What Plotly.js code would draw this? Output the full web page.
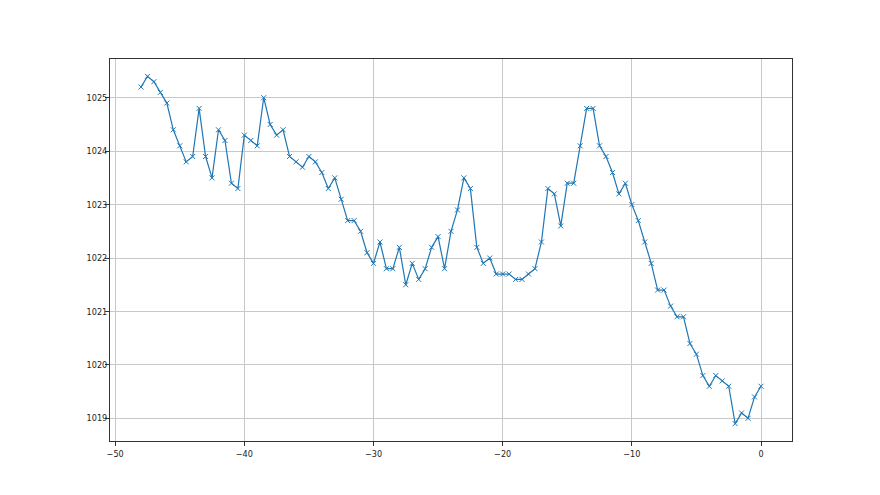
<!DOCTYPE html>
<html>
<head>
<meta charset="utf-8">
<script src="https://cdn.plot.ly/plotly-3.0.1.min.js"></script>
<style>html,body{margin:0;padding:0;background:#fff;}#chart{width:880px;height:495px;}</style>
</head>
<body>
<div id="chart"></div>
<script>
const hours = [-48,-47.5,-47,-46.5,-46,-45.5,-45,-44.5,-44,-43.5,-43,-42.5,-42,-41.5,-41,-40.5,-40,-39.5,-39,-38.5,-38,-37.5,-37,-36.5,-36,-35.5,-35,-34.5,-34,-33.5,-33,-32.5,-32,-31.5,-31,-30.5,-30,-29.5,-29,-28.5,-28,-27.5,-27,-26.5,-26,-25.5,-25,-24.5,-24,-23.5,-23,-22.5,-22,-21.5,-21,-20.5,-20,-19.5,-19,-18.5,-18,-17.5,-17,-16.5,-16,-15.5,-15,-14.5,-14,-13.5,-13,-12.5,-12,-11.5,-11,-10.5,-10,-9.5,-9,-8.5,-8,-7.5,-7,-6.5,-6,-5.5,-5,-4.5,-4,-3.5,-3,-2.5,-2,-1.5,-1,-0.5,0];
const pressure = [1025.2,1025.4,1025.3,1025.1,1024.9,1024.4,1024.1,1023.8,1023.9,1024.8,1023.9,1023.5,1024.4,1024.2,1023.4,1023.3,1024.3,1024.2,1024.1,1025.0,1024.5,1024.3,1024.4,1023.9,1023.8,1023.7,1023.9,1023.8,1023.6,1023.3,1023.5,1023.1,1022.7,1022.7,1022.5,1022.1,1021.9,1022.3,1021.8,1021.8,1022.2,1021.5,1021.9,1021.6,1021.8,1022.2,1022.4,1021.8,1022.5,1022.9,1023.5,1023.3,1022.2,1021.9,1022.0,1021.7,1021.7,1021.7,1021.6,1021.6,1021.7,1021.8,1022.3,1023.3,1023.2,1022.6,1023.4,1023.4,1024.1,1024.8,1024.8,1024.1,1023.9,1023.6,1023.2,1023.4,1023.0,1022.7,1022.3,1021.9,1021.4,1021.4,1021.1,1020.9,1020.9,1020.4,1020.2,1019.8,1019.6,1019.8,1019.7,1019.6,1018.9,1019.1,1019.0,1019.4,1019.6];
const xTicks = [-50,-40,-30,-20,-10,0];
const yTicks = [1019,1020,1021,1022,1023,1024,1025];

const axisCommon = {
  showline: true, mirror: true, linecolor: '#333', linewidth: 1,
  showgrid: true, gridcolor: '#c8c8c8', gridwidth: 1,
  ticks: 'outside', ticklen: 4, tickcolor: '#333', tickwidth: 1,
  zeroline: false,
  tickfont: {family: 'DejaVu Sans Condensed, DejaVu Sans', size: 9, color: '#222'}
};

Plotly.newPlot('chart', [{
  x: hours, y: pressure, type: 'scatter', mode: 'lines+markers',
  line: {color: '#1f77b4', width: 1.2},
  marker: {symbol: 'x-thin', size: 5, line: {color: '#1f77b4', width: 1}, color: '#1f77b4'}
}], Object.assign({
  width: 880, height: 495,
  margin: {l: 110, r: 88, t: 59, b: 54},
  paper_bgcolor: '#fff', plot_bgcolor: '#fff',
  showlegend: false,
  xaxis: Object.assign({}, axisCommon, {range: [-50.4, 2.4], tickvals: xTicks, ticktext: xTicks.map(v => v < 0 ? '\u2212' + Math.abs(v) : String(v))}),
  yaxis: Object.assign({}, axisCommon, {range: [1018.575, 1025.725], tickvals: yTicks, ticktext: yTicks.map(String), ticklabelstandoff: -4})
}), {displayModeBar: false, staticPlot: true});
</script>
</body>
</html>
